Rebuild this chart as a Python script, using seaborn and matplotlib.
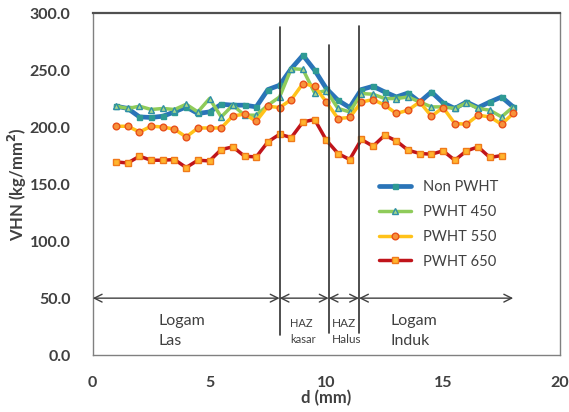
import numpy as np
import pandas as pd
import matplotlib
matplotlib.use("Agg")
import matplotlib.pyplot as plt
import seaborn as sns
from matplotlib.ticker import StrMethodFormatter

# -----------------------------
# Data
# -----------------------------
d_mm = [1.0, 1.5, 2.0, 2.5, 3.0, 3.5, 4.0, 4.5, 5.0, 5.5, 6.0, 6.5, 7.0, 7.5, 8.0, 8.5,
        9.0, 9.5, 10.0, 10.5, 11.0, 11.5, 12.0, 12.5, 13.0, 13.5, 14.0, 14.5, 15.0,
        15.5, 16.0, 16.5, 17.0, 17.5, 18.0]

non_pwht = [218.4, 216.4, 209.0, 208.5, 209.6, 213.4, 217.8, 212.0, 213.4, 220.1, 219.3,
            219.3, 217.8, 233.0, 236.8, 251.4, 263.1, 250.0, 233.9, 223.6, 217.2, 233.0,
            235.9, 230.9, 226.5, 230.0, 222.1, 230.9, 221.3, 216.4, 222.1, 217.2, 222.1,
            226.5, 217.8]

pwht_450 = [218.4, 216.4, 218.4, 215.5, 216.4, 215.5, 220.1, 213.4, 225.1, 209.0, 219.3,
            210.5, 210.5, 219.3, 226.5, 251.4, 250.6, 230.0, 232.0, 216.4, 213.4, 229.5,
            228.9, 225.1, 225.1, 226.5, 222.1, 217.8, 217.8, 216.4, 221.3, 216.4, 214.9,
            209.0, 217.8]

pwht_550 = [200.8, 200.8, 195.8, 200.8, 200.2, 198.2, 191.4, 199.3, 199.3, 199.3, 209.9,
            211.4, 205.2, 218.4, 217.2, 224.2, 238.3, 235.9, 222.1, 207.6, 208.5, 222.1,
            224.2, 219.3, 212.0, 214.9, 222.1, 209.6, 217.2, 203.2, 202.6, 210.5, 209.0,
            202.6, 212.0]

pwht_650 = [169.5, 168.6, 174.5, 171.0, 171.0, 171.6, 164.6, 171.0, 170.4, 180.4, 182.7,
            174.5, 173.9, 187.1, 193.8, 190.9, 204.6, 206.7, 188.6, 176.9, 171.6, 189.2,
            183.3, 192.9, 187.9, 179.8, 176.9, 176.3, 179.2, 171.0, 179.2, 182.7, 173.4,
            175.1]

# zone boundaries (vertical lines) and zone labels
zone_x = [8.0, 10.1, 11.4]
zone_top = [288.0, 272.0, 289.0]
zone_bottom = [18.0, 19.0, 19.0]
arrow_spans = [(0.0, 8.0), (8.0, 10.1), (10.1, 11.4), (11.4, 18.0)]
arrow_y = 50.0
zone_labels = ["Logam\nLas", "HAZ\nkasar", "HAZ\nHalus", "Logam\nInduk"]
zone_label_x = [2.8, 8.45, 10.25, 12.75]
zone_label_size = [11.5, 8, 8.5, 11.5]

# -----------------------------
# Build tidy frame
# -----------------------------
frames = []
for name, vals in [("Non PWHT", non_pwht), ("PWHT 450", pwht_450),
                   ("PWHT 550", pwht_550), ("PWHT 650", pwht_650)]:
    frames.append(pd.DataFrame({"d": d_mm[:len(vals)], "VHN": vals, "series": name}))
df = pd.concat(frames, ignore_index=True)

styles = {
    "Non PWHT": dict(color="#2a74b8", lw=3.4, marker="s", ms=3.6,
                     mfc="#2f9a94", mec="#2f9a94"),
    "PWHT 450": dict(color="#8fcb5a", lw=2.5, marker="^", ms=4.6,
                     mfc="#a9d98a", mec="#2f8fa6"),
    "PWHT 550": dict(color="#ffc21a", lw=2.5, marker="o", ms=4.8,
                     mfc="#f7923a", mec="#e8501a"),
    "PWHT 650": dict(color="#c0141a", lw=2.5, marker="s", ms=3.8,
                     mfc="#ffb52e", mec="#f07a1a"),
}

# -----------------------------
# Plot
# -----------------------------
sns.set_theme(style="white")
plt.rcParams["font.family"] = ["Lato", "DejaVu Sans"]

fig = plt.figure(figsize=(5.69, 4.12), dpi=100)
ax = fig.add_axes([0.163, 0.138, 0.821, 0.830])

for name, st in styles.items():
    sub = df[df["series"] == name]
    sns.lineplot(data=sub, x="d", y="VHN", ax=ax, label=name, color=st["color"],
                 linewidth=st["lw"], marker=st["marker"], markersize=st["ms"],
                 markerfacecolor=st["mfc"], markeredgecolor=st["mec"],
                 markeredgewidth=1.0, estimator=None, sort=False)

# zone boundaries
for x, y0, y1 in zip(zone_x, zone_bottom, zone_top):
    ax.plot([x, x], [y0, y1], color="#303030", lw=1.2, zorder=5)

# double arrows
for x0, x1 in arrow_spans:
    ax.annotate("", xy=(x1, arrow_y), xytext=(x0, arrow_y),
                arrowprops=dict(arrowstyle="<->", color="#404040", lw=1.0,
                                mutation_scale=14, shrinkA=0, shrinkB=0))

for lab, x, fs in zip(zone_labels, zone_label_x, zone_label_size):
    ax.text(x, 21, lab, fontsize=fs, color="#404040", ha="left", va="center",
            linespacing=1.55)

ax.set_xlim(0, 20)
ax.set_ylim(0, 300)
ax.set_xticks([0, 5, 10, 15, 20])
ax.set_yticks(np.arange(0, 301, 50))
ax.yaxis.set_major_formatter(StrMethodFormatter("{x:.1f}"))
ax.tick_params(axis="both", direction="inout", length=6, width=0.8, color="#808080",
               labelsize=11.5, labelcolor="#404040")
ax.tick_params(axis="y", pad=13)
ax.tick_params(axis="x", pad=12)
for lab in ax.get_xticklabels() + ax.get_yticklabels():
    lab.set_fontweight("bold")

for side in ["left", "bottom", "right"]:
    ax.spines[side].set_color("#808080")
    ax.spines[side].set_linewidth(1.0)
ax.spines["top"].set_color("#505050")
ax.spines["top"].set_linewidth(1.6)

ax.set_xlabel("d (mm)", fontsize=12, fontweight="bold", color="#404040", labelpad=0)
ax.set_ylabel("VHN (kg/mm$^\\mathbf{2}$)", fontsize=12, fontweight="bold",
              color="#404040")
ax.yaxis.set_label_coords(-0.136, 0.5)

leg = ax.legend(loc="upper left", bbox_to_anchor=(0.6, 0.53), frameon=False,
                handlelength=2.2, labelspacing=0.75, fontsize=10.5, borderaxespad=0)
for t in leg.get_texts():
    t.set_color("#404040")

fig.savefig("out.png", dpi=100)
